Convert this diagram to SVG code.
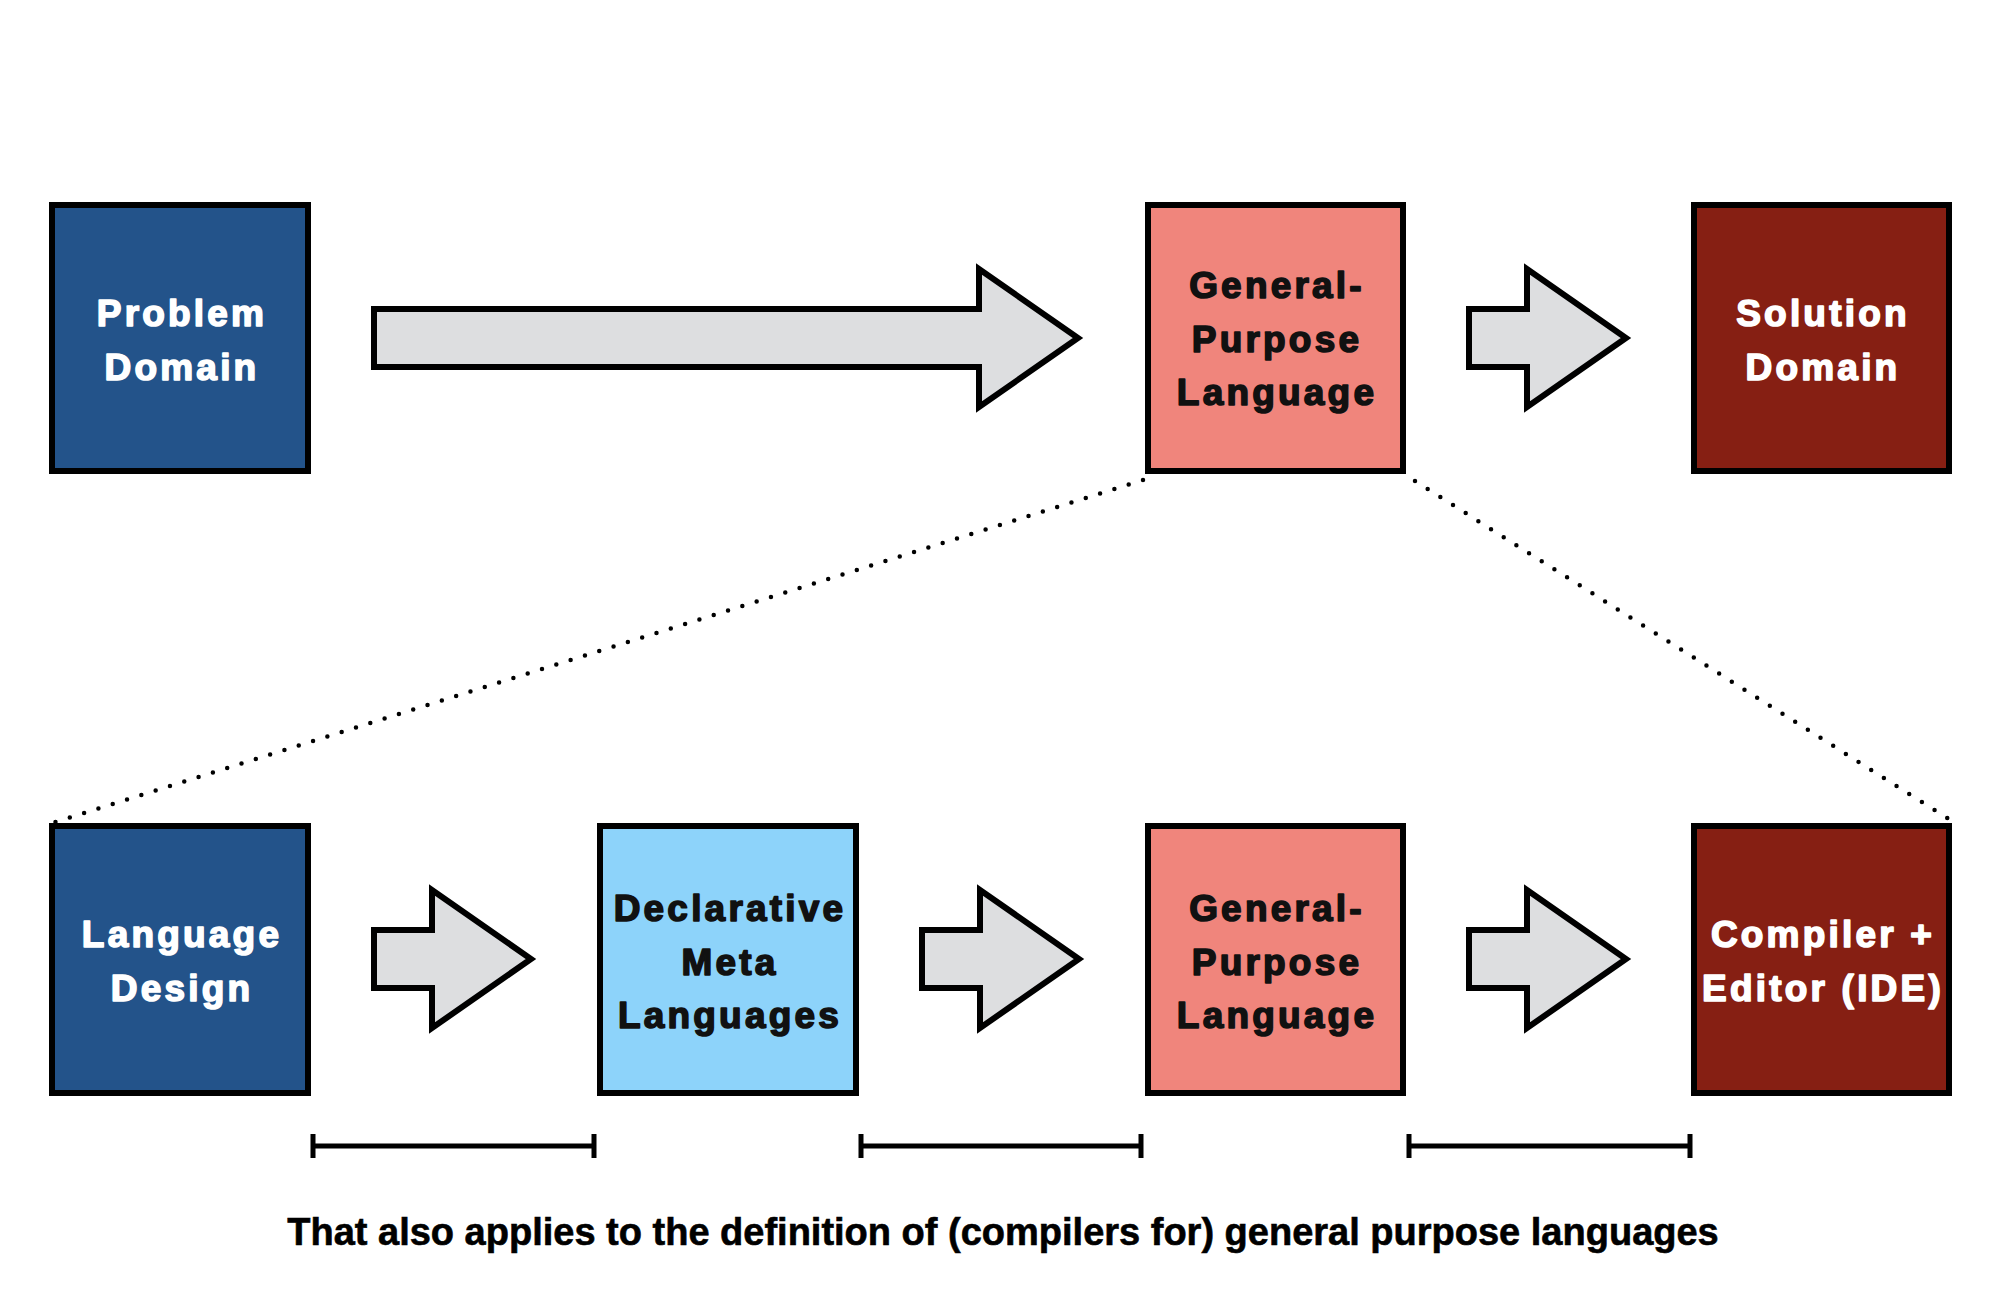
<svg xmlns="http://www.w3.org/2000/svg" width="2000" height="1300" viewBox="0 0 2000 1300">
<style>
.box{stroke:#000;stroke-width:6}
.blue{fill:#23538A}
.salmon{fill:#F0857C}
.light{fill:#8DD3FA}
.dark{fill:#861F13}
.arrow{fill:#DDDEE0;stroke:#000;stroke-width:6;stroke-linejoin:miter}
.lbl{font-family:"Liberation Sans",Arial,sans-serif;font-weight:bold;font-size:37px;letter-spacing:3.2px;text-anchor:middle;stroke-width:1.6px;stroke-linejoin:round}
.w{fill:#fff;stroke:#fff}
.k{fill:#111;stroke:#111}
.dots{fill:none;stroke:#000;stroke-width:4.5;stroke-linecap:round;stroke-dasharray:0 15}
.brk{fill:none;stroke:#000;stroke-width:5}
.cap{font-family:"Liberation Sans",Arial,sans-serif;font-weight:bold;font-size:38px;text-anchor:middle;fill:#000;stroke:#000;stroke-width:0.6px}
</style>
<rect width="2000" height="1300" fill="#fff"/>

<g id="connectors">
  <line class="dots" x1="1143" y1="480" x2="52" y2="823"/>
  <line class="dots" x1="1415" y1="481" x2="1955" y2="823"/>
  <path class="arrow" d="M374,309 H979 V269 L1078,338 L979,407 V367 H374 Z"/>
  <path class="arrow" d="M1469,309 H1527 V269 L1626,338 L1527,407 V367 H1469 Z"/>
  <path class="arrow" d="M374,930 H432 V890 L531,959 L432,1028 V988 H374 Z"/>
  <path class="arrow" d="M922,930 H980 V890 L1079,959 L980,1028 V988 H922 Z"/>
  <path class="arrow" d="M1469,930 H1527 V890 L1626,959 L1527,1028 V988 H1469 Z"/>
</g>

<g id="problem-domain">
  <rect class="box blue" x="52" y="205" width="256" height="266"/>
  <text class="lbl w" x="182" y="326">Problem</text>
  <text class="lbl w" x="182" y="380">Domain</text>
</g>

<g id="gpl-top">
  <rect class="box salmon" x="1148" y="205" width="255" height="266"/>
  <text class="lbl k" x="1277" y="298">General-</text>
  <text class="lbl k" x="1277" y="352">Purpose</text>
  <text class="lbl k" x="1277" y="405">Language</text>
</g>

<g id="solution-domain">
  <rect class="box dark" x="1694" y="205" width="255" height="266"/>
  <text class="lbl w" x="1823" y="326">Solution</text>
  <text class="lbl w" x="1823" y="380">Domain</text>
</g>

<g id="language-design">
  <rect class="box blue" x="52" y="826" width="256" height="267"/>
  <text class="lbl w" x="182" y="947">Language</text>
  <text class="lbl w" x="182" y="1001">Design</text>
</g>

<g id="declarative-meta-languages">
  <rect class="box light" x="600" y="826" width="256" height="267"/>
  <text class="lbl k" x="730" y="921">Declarative</text>
  <text class="lbl k" x="730" y="975">Meta</text>
  <text class="lbl k" x="730" y="1028">Languages</text>
</g>

<g id="gpl-bottom">
  <rect class="box salmon" x="1148" y="826" width="255" height="267"/>
  <text class="lbl k" x="1277" y="921">General-</text>
  <text class="lbl k" x="1277" y="975">Purpose</text>
  <text class="lbl k" x="1277" y="1028">Language</text>
</g>

<g id="compiler-editor">
  <rect class="box dark" x="1694" y="826" width="255" height="267"/>
  <text class="lbl w" x="1823" y="947">Compiler +</text>
  <text class="lbl w" x="1823" y="1001">Editor (IDE)</text>
</g>

<g id="brackets">
  <path class="brk" d="M313,1134 V1158 M313,1146 H594 M594,1134 V1158"/>
  <path class="brk" d="M861,1134 V1158 M861,1146 H1141 M1141,1134 V1158"/>
  <path class="brk" d="M1409,1134 V1158 M1409,1146 H1690 M1690,1134 V1158"/>
</g>

<g id="caption">
  <text class="cap" x="1003" y="1245">That also applies to the definition of (compilers for) general purpose languages</text>
</g>
</svg>
